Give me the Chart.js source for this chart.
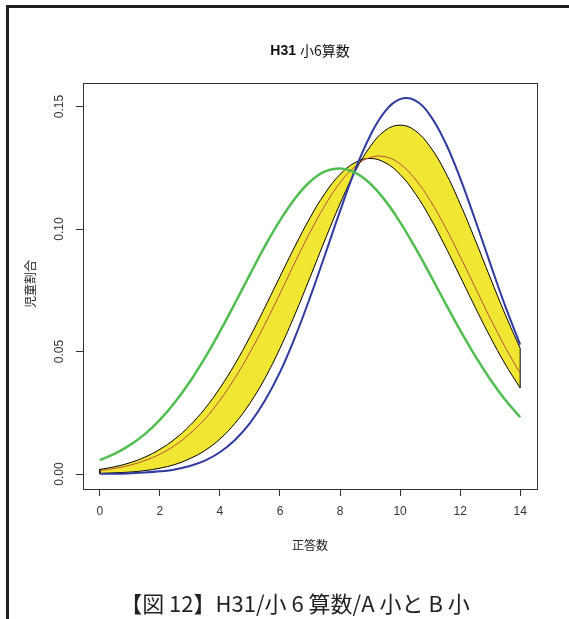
<!DOCTYPE html>
<html><head><meta charset="utf-8">
<script src="https://cdn.jsdelivr.net/npm/chart.js@4.4.1/dist/chart.umd.min.js"></script>
<style>
html,body{margin:0;padding:0;background:#fff;width:569px;height:619px;overflow:hidden}
#frame{position:absolute;left:6px;top:5px;width:563px;height:620px;border-left:3px solid #231f20;border-top:3px solid #231f20;box-sizing:border-box}
#cap{position:absolute;left:95px;width:400px;top:587px;text-align:center;font-size:22px;font-family:"Noto Sans CJK JP",sans-serif;color:#231f20;line-height:30px;white-space:nowrap}
canvas{position:absolute;left:0;top:0}
</style></head><body>
<div id="frame"></div>
<canvas id="c" width="569" height="619"></canvas>
<div id="cap">【図 12】H31/小 6 算数/A 小と B 小</div>
<script>
// x positions (正答数)
const answers = [0,0.5,1,1.5,2,2.5,3,3.5,4,4.5,5,5.5,6,6.5,7,7.5,8,8.5,9,9.5,10,10.5,11,11.5,12,12.5,13,13.5,14];
// green curve
const greenVals = [0.0057,0.0083,0.0118,0.0163,0.0221,0.0293,0.0377,0.0474,0.0582,0.0697,0.0815,0.0930,0.1035,0.1125,0.1193,0.1235,0.1247,0.1230,0.1186,0.1117,0.1028,0.0925,0.0814,0.0699,0.0587,0.0482,0.0387,0.0303,0.0232];
// blue curve
const blueVals = [0.0001,0.0001,0.0003,0.0006,0.0011,0.0019,0.0033,0.0055,0.0089,0.0139,0.0208,0.0300,0.0416,0.0558,0.0720,0.0895,0.1073,0.1240,0.1380,0.1480,0.1530,0.1525,0.1464,0.1355,0.1208,0.1038,0.0860,0.0686,0.0528];
// yellow band boundary A (upper on the left)
const bandA = [0.0019,0.0030,0.0046,0.0069,0.0101,0.0143,0.0198,0.0267,0.0351,0.0449,0.0560,0.0681,0.0806,0.0930,0.1046,0.1146,0.1223,0.1271,0.1288,0.1271,0.1223,0.1146,0.1046,0.0930,0.0806,0.0681,0.0560,0.0449,0.0351];
// yellow band boundary B (upper on the right)
const bandB = [0.0002,0.0005,0.0008,0.0014,0.0024,0.0039,0.0063,0.0096,0.0143,0.0207,0.0289,0.0391,0.0513,0.0652,0.0802,0.0956,0.1103,0.1234,0.1336,0.1402,0.1424,0.1402,0.1336,0.1234,0.1103,0.0956,0.0802,0.0652,0.0513];
// red middle curve
const redVals = [0.0014,0.0023,0.0036,0.0055,0.0081,0.0117,0.0165,0.0225,0.0301,0.0392,0.0496,0.0612,0.0736,0.0864,0.0986,0.1097,0.1189,0.1255,0.1292,0.1295,0.1266,0.1204,0.1117,0.1009,0.0888,0.0762,0.0636,0.0518,0.0411];
// ticks
const xTicks = [0,2,4,6,8,10,12,14];
const yTicks = [0.00,0.05,0.10,0.15];

const pts = arr => answers.map((x,i)=>({x:x,y:arr[i]}));
const last = answers.length-1;
const AXC = '#333333';
const LAT = '"Liberation Sans", Arial, "Noto Sans CJK JP", sans-serif';

const decor = {
  id:'decor',
  afterDatasetsDraw(chart){
    const ctx = chart.ctx, a = chart.chartArea;
    ctx.save();
    ctx.strokeStyle = AXC; ctx.lineWidth = 1;
    ctx.strokeRect(Math.round(a.left)+0.5, Math.round(a.top)+0.5, Math.round(a.right-a.left), Math.round(a.bottom-a.top));
    ctx.restore();
  },
  afterDraw(chart){
    const ctx = chart.ctx, ys = chart.scales.y;
    ctx.save();
    ctx.fillStyle = AXC;
    ctx.font = '12px ' + LAT;
    ctx.textAlign = 'center'; ctx.textBaseline = 'middle';
    yTicks.forEach(v=>{
      ctx.save();
      ctx.translate(60, ys.getPixelForValue(v));
      ctx.rotate(-Math.PI/2);
      ctx.fillText(v.toFixed(2),0,0);
      ctx.restore();
    });
    // y title
    ctx.save();
    ctx.translate(30, 284);
    ctx.rotate(-Math.PI/2);
    ctx.font = '12px "Noto Sans CJK JP", sans-serif';
    ctx.fillStyle = '#222';
    ctx.fillText('児童割合',0,0);
    ctx.restore();
    // x title
    ctx.font = '12px "Noto Sans CJK JP", sans-serif';
    ctx.fillStyle = '#222';
    ctx.fillText('正答数', 310, 545);
    // main title
    const p1 = 'H31 ', p2 = '小6算数';
    ctx.font = 'bold 14px ' + LAT;
    const w1 = ctx.measureText(p1).width;
    ctx.font = '14px "Noto Sans CJK JP", sans-serif';
    const w2 = ctx.measureText(p2).width;
    let x0 = 310 - (w1+w2)/2;
    ctx.textAlign = 'left';
    ctx.fillStyle = '#111';
    ctx.font = 'bold 14px ' + LAT;
    ctx.fillText(p1, x0, 51);
    ctx.font = '14px "Noto Sans CJK JP", sans-serif';
    ctx.fillText(p2, x0+w1, 51);
    ctx.restore();
  }
};

const lineDs = (label, arr, color, width, order, extra) => Object.assign({
  label, data: pts(arr), borderColor: color, borderWidth: width,
  pointRadius: 0, fill: false, order, tension: 0.4
}, extra||{});

new Chart(document.getElementById('c'), {
  type: 'line',
  data: { datasets: [
    lineDs('A', bandA, '#000', 1, 6, {fill: 1, backgroundColor: '#f1e733'}),
    lineDs('B', bandB, '#000', 1, 5),
    lineDs('red', redVals, '#b8503a', 1, 3),
    lineDs('blue', blueVals, '#2e3a9f', 2, 2),
    lineDs('green', greenVals, '#52be52', 2.5, 1),
    {label:'edgeL', data:[{x:answers[0],y:bandA[0]},{x:answers[0],y:bandB[0]}], borderColor:'#000', borderWidth:1, pointRadius:0, fill:false, order:4, tension:0},
    {label:'edgeR', data:[{x:answers[last],y:bandA[last]},{x:answers[last],y:bandB[last]}], borderColor:'#000', borderWidth:1, pointRadius:0, fill:false, order:4, tension:0}
  ]},
  options: {
    responsive: false, animation: false, devicePixelRatio: 1,
    layout: { padding: { left: 63, top: 83, right: 32, bottom: 100 } },
    plugins: { legend: {display:false}, tooltip: {enabled:false}, title:{display:false} },
    scales: {
      x: {
        type: 'linear', min: -0.56, max: 14.56,
        afterBuildTicks: s => { s.ticks = xTicks.map(v=>({value:v})); },
        afterFit: s => { s.height = 30; },
        ticks: { autoSkip:false, maxRotation:0, minRotation:0, padding: 8, color: AXC, font:{family:LAT, size:12}, callback: v => String(v) },
        grid: { drawOnChartArea:false, drawTicks:true, tickLength:7, color: AXC },
        border: { display:false }
      },
      y: {
        type: 'linear', min: -0.0061, max: 0.1596,
        afterBuildTicks: s => { s.ticks = yTicks.map(v=>({value:v})); },
        afterFit: s => { s.width = 20; },
        ticks: { color: 'rgba(0,0,0,0)', callback: () => '' },
        grid: { drawOnChartArea:false, drawTicks:true, tickLength:7, color: AXC },
        border: { display:false }
      }
    }
  },
  plugins: [decor]
});
</script>
</body></html>
